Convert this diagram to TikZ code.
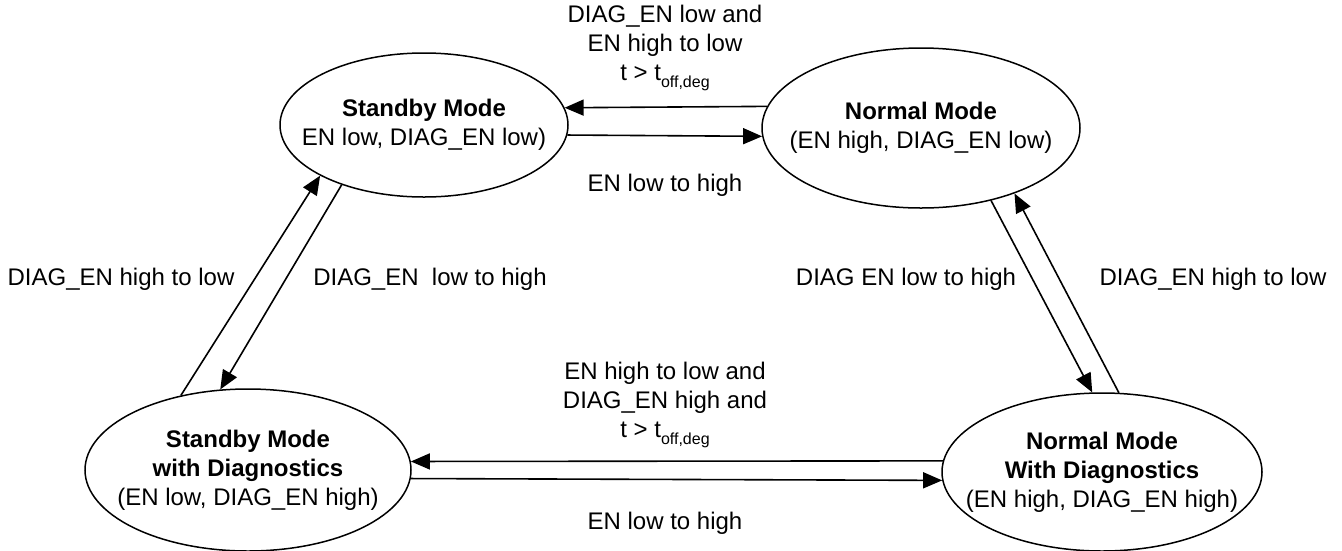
\documentclass[tikz,border=0pt]{standalone}
\usepackage{fontspec}
\setmainfont{Liberation Sans}
\usetikzlibrary{arrows.meta,shapes.geometric}
\tikzset{
  state/.style={ellipse, draw, line width=1.5pt, inner sep=0pt},
  statetext/.style={align=center, inner sep=0pt, font=\fontsize{24}{28.8}\selectfont},
  lbl/.style={align=center, inner sep=0pt, font=\fontsize{24}{28.8}\selectfont},
  trans/.style={line width=1.6pt, -{Triangle[length=19pt,width=16pt]}}
}
\newcommand{\toffdeg}{t > t\raisebox{-0.3em}{\fontsize{16}{16}\selectfont off,deg}}
\begin{document}
\begin{tikzpicture}[x=1pt,y=-1pt]
\useasboundingbox (0,0) rectangle (1342,550);
% states
\node[state, minimum width=288pt, minimum height=144pt] (S) at (424,125) {};
\node[statetext] (St) at (S.center) {\textbf{Standby Mode}\\EN low, DIAG\_EN low)};
\node[state, minimum width=318pt, minimum height=160pt] (N) at (921,128) {};
\node[statetext] (Nt) at (N.center) {\textbf{Normal Mode}\\(EN high, DIAG\_EN low)};
\node[state, minimum width=326pt, minimum height=162pt] (SD) at (248,470) {};
\node[statetext] (SDt) at (SD.center) {\textbf{Standby Mode}\\\textbf{with Diagnostics}\\(EN low, DIAG\_EN high)};
\node[state, minimum width=320pt, minimum height=158pt] (ND) at (1102,472) {};
\node[statetext] (NDt) at (ND.center) {\textbf{Normal Mode}\\\textbf{With Diagnostics}\\(EN high, DIAG\_EN high)};
% top transitions
\draw[trans] (N.172.2) -- (S.7.36);
\draw[trans] (S.-4.42) -- (N.-177.1);
% bottom transitions
\draw[trans] (ND.176.03) -- (SD.3.18);
\draw[trans] (SD.-3.18) -- (ND.-177.5);
% left transitions
\draw[trans] (SD.132.1) -- (S.206.1);
\draw[trans] (S.216.5) -- (SD.109.3);
% right transitions
\draw[trans] (N.-46.2) -- (ND.97.0);
\draw[trans] (ND.78.7) -- (N.-35.7);
% labels
\node[lbl] (l1) at (665,48) {DIAG\_EN low and\\EN high to low\\\toffdeg};
\node[lbl] (l2) at (665,185) {EN low to high};
\node[lbl] (l3) at (665,405) {EN high to low and\\DIAG\_EN high and\\\toffdeg};
\node[lbl] (l4) at (665,523) {EN low to high};
\node[lbl] (l5) at (121,279) {DIAG\_EN high to low};
\node[lbl] (l6) at (430,279) {DIAG\_EN\ \ low to high};
\node[lbl] (l7) at (906,279) {DIAG EN low to high};
\node[lbl] (l8) at (1213,279) {DIAG\_EN high to low};
\end{tikzpicture}
\end{document}
